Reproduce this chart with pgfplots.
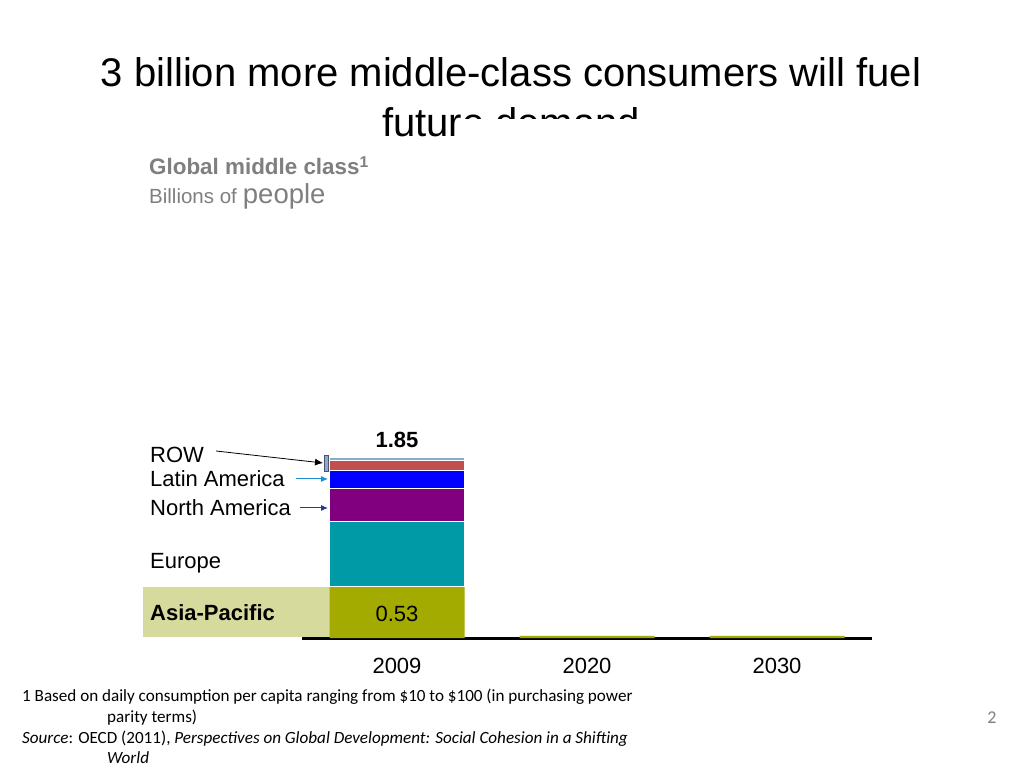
\documentclass[border=0pt]{standalone}
\usepackage{fontspec}
\setmainfont{Liberation Sans}
\newfontfamily\calibri{Carlito}
\usepackage{pgfplots}
\pgfplotsset{compat=1.18}
\usetikzlibrary{arrows.meta}
\definecolor{asia}{HTML}{A3AB00}
\definecolor{asiabox}{HTML}{D6DA9C}
\definecolor{europe}{HTML}{009AA6}
\definecolor{namerica}{HTML}{800080}
\definecolor{latam}{HTML}{0000FF}
\definecolor{mena}{HTML}{C0504D}
\definecolor{rowc}{HTML}{8EA9D0}
\definecolor{txtgray}{HTML}{7F7F7F}
\definecolor{arrlight}{HTML}{1F8FD0}
\definecolor{arrdark}{HTML}{1F3F8F}
\begin{document}
\begin{tikzpicture}[x=1pt,y=1pt]
\fill[white] (0,0) rectangle (1024,768);
\useasboundingbox (0,0) rectangle (1024,768);
% title
\node[anchor=base, inner sep=0pt, font=\fontsize{40}{48}\selectfont] at (511,768-87) {3 billion more middle-class consumers will fuel};
\node[anchor=base, inner sep=0pt, font=\fontsize{40}{48}\selectfont] at (511,768-137) {future demand};
\fill[white] (463,768-119) rectangle (660,768-146);
% header
\node[anchor=base west, inner sep=0pt, text=txtgray, font=\bfseries\fontsize{22.4}{26}\selectfont] at (149,768-175) {Global middle class\textsuperscript{1}};
\node[anchor=base west, inner sep=0pt, text=txtgray] at (149,768-204) {\fontsize{20.5}{24}\selectfont Billions of\hspace{6pt}\fontsize{27.5}{30}\selectfont people};
% Asia box
\fill[asiabox] (143,768-637) rectangle (330,768-587);
\begin{axis}[
  at={(302pt,130pt)}, anchor=south west, scale only axis,
  width=570pt, height=489pt,
  xmin=-0.5, xmax=2.5, ymin=0, ymax=5,
  axis x line=bottom, axis y line=none,
  x axis line style={line width=3pt, -},
  xtick={0,1,2}, xticklabels={2009,2020,2030}, major tick length=0pt,
  xticklabel style={font=\fontsize{22}{26}\selectfont, yshift=-17pt},
  ybar stacked, reverse stacked plots=false, bar width=135pt,
  clip=false,
]
\addplot[fill=asia, draw=none] coordinates {(0,0.525) (1,0.022) (2,0.022)};
\addplot[fill=europe, draw=white, line width=1pt] coordinates {(0,0.664)};
\addplot[fill=namerica, draw=white, line width=1pt] coordinates {(0,0.338)};
\addplot[fill=latam, draw=white, line width=1pt] coordinates {(0,0.181)};
\addplot[fill=mena, draw=white, line width=1pt] coordinates {(0,0.105)};
\addplot[fill=rowc, draw=white, line width=0.6pt] coordinates {(0,0.032)};
\node[font=\bfseries\fontsize{22}{26}\selectfont, anchor=south] at (axis cs:0,1.845) [yshift=6pt] {1.85};
\node[font=\fontsize{22}{26}\selectfont] at (axis cs:0,0.245) {0.53};
\end{axis}
% left labels
\node[anchor=base west, inner sep=0pt, font=\fontsize{22}{26}\selectfont] at (150,768-463) {ROW};
\node[anchor=base west, inner sep=0pt, font=\fontsize{22}{26}\selectfont] at (150,768-487) {Latin America};
\node[anchor=base west, inner sep=0pt, font=\fontsize{22}{26}\selectfont] at (150,768-516) {North America};
\node[anchor=base west, inner sep=0pt, font=\fontsize{22}{26}\selectfont] at (150,768-569) {Europe};
\node[anchor=base west, inner sep=0pt, font=\bfseries\fontsize{22}{26}\selectfont] at (150,768-621) {Asia-Pacific};
% arrows
\draw[-{Latex[length=8pt,width=7pt]}, black, line width=0.8pt] (216,768-451) -- (323,768-463);
\draw[fill=rowc, draw=rowc!50!black, line width=0.8pt] (324,768-455) rectangle (328,768-471);
\draw[-{Latex[length=7pt,width=6pt]}, arrlight, line width=1pt] (296,768-479) -- (328,768-479);
\draw[-{Latex[length=7pt,width=6pt]}, arrdark, line width=1pt] (300,768-508) -- (328,768-508);
% footnotes
\begin{scope}[every node/.style={anchor=base west, inner sep=0pt, font=\calibri\fontsize{17.1}{19}\selectfont}]
\node at (22,768-701) {1 Based on daily consumption per capita ranging from \$10 to \$100 (in purchasing power};
\node at (107,768-722) {parity terms)};
\node at (22,768-743) {\textit{Source}: OECD (2011), \textit{Perspectives on Global Development: Social Cohesion in a Shifting}};
\node at (107,768-763) {\textit{World}};
\end{scope}
\node[anchor=base, inner sep=0pt, text=txtgray, font=\calibri\fontsize{18}{22}\selectfont] at (992,768-723) {2};
\end{tikzpicture}
\end{document}
